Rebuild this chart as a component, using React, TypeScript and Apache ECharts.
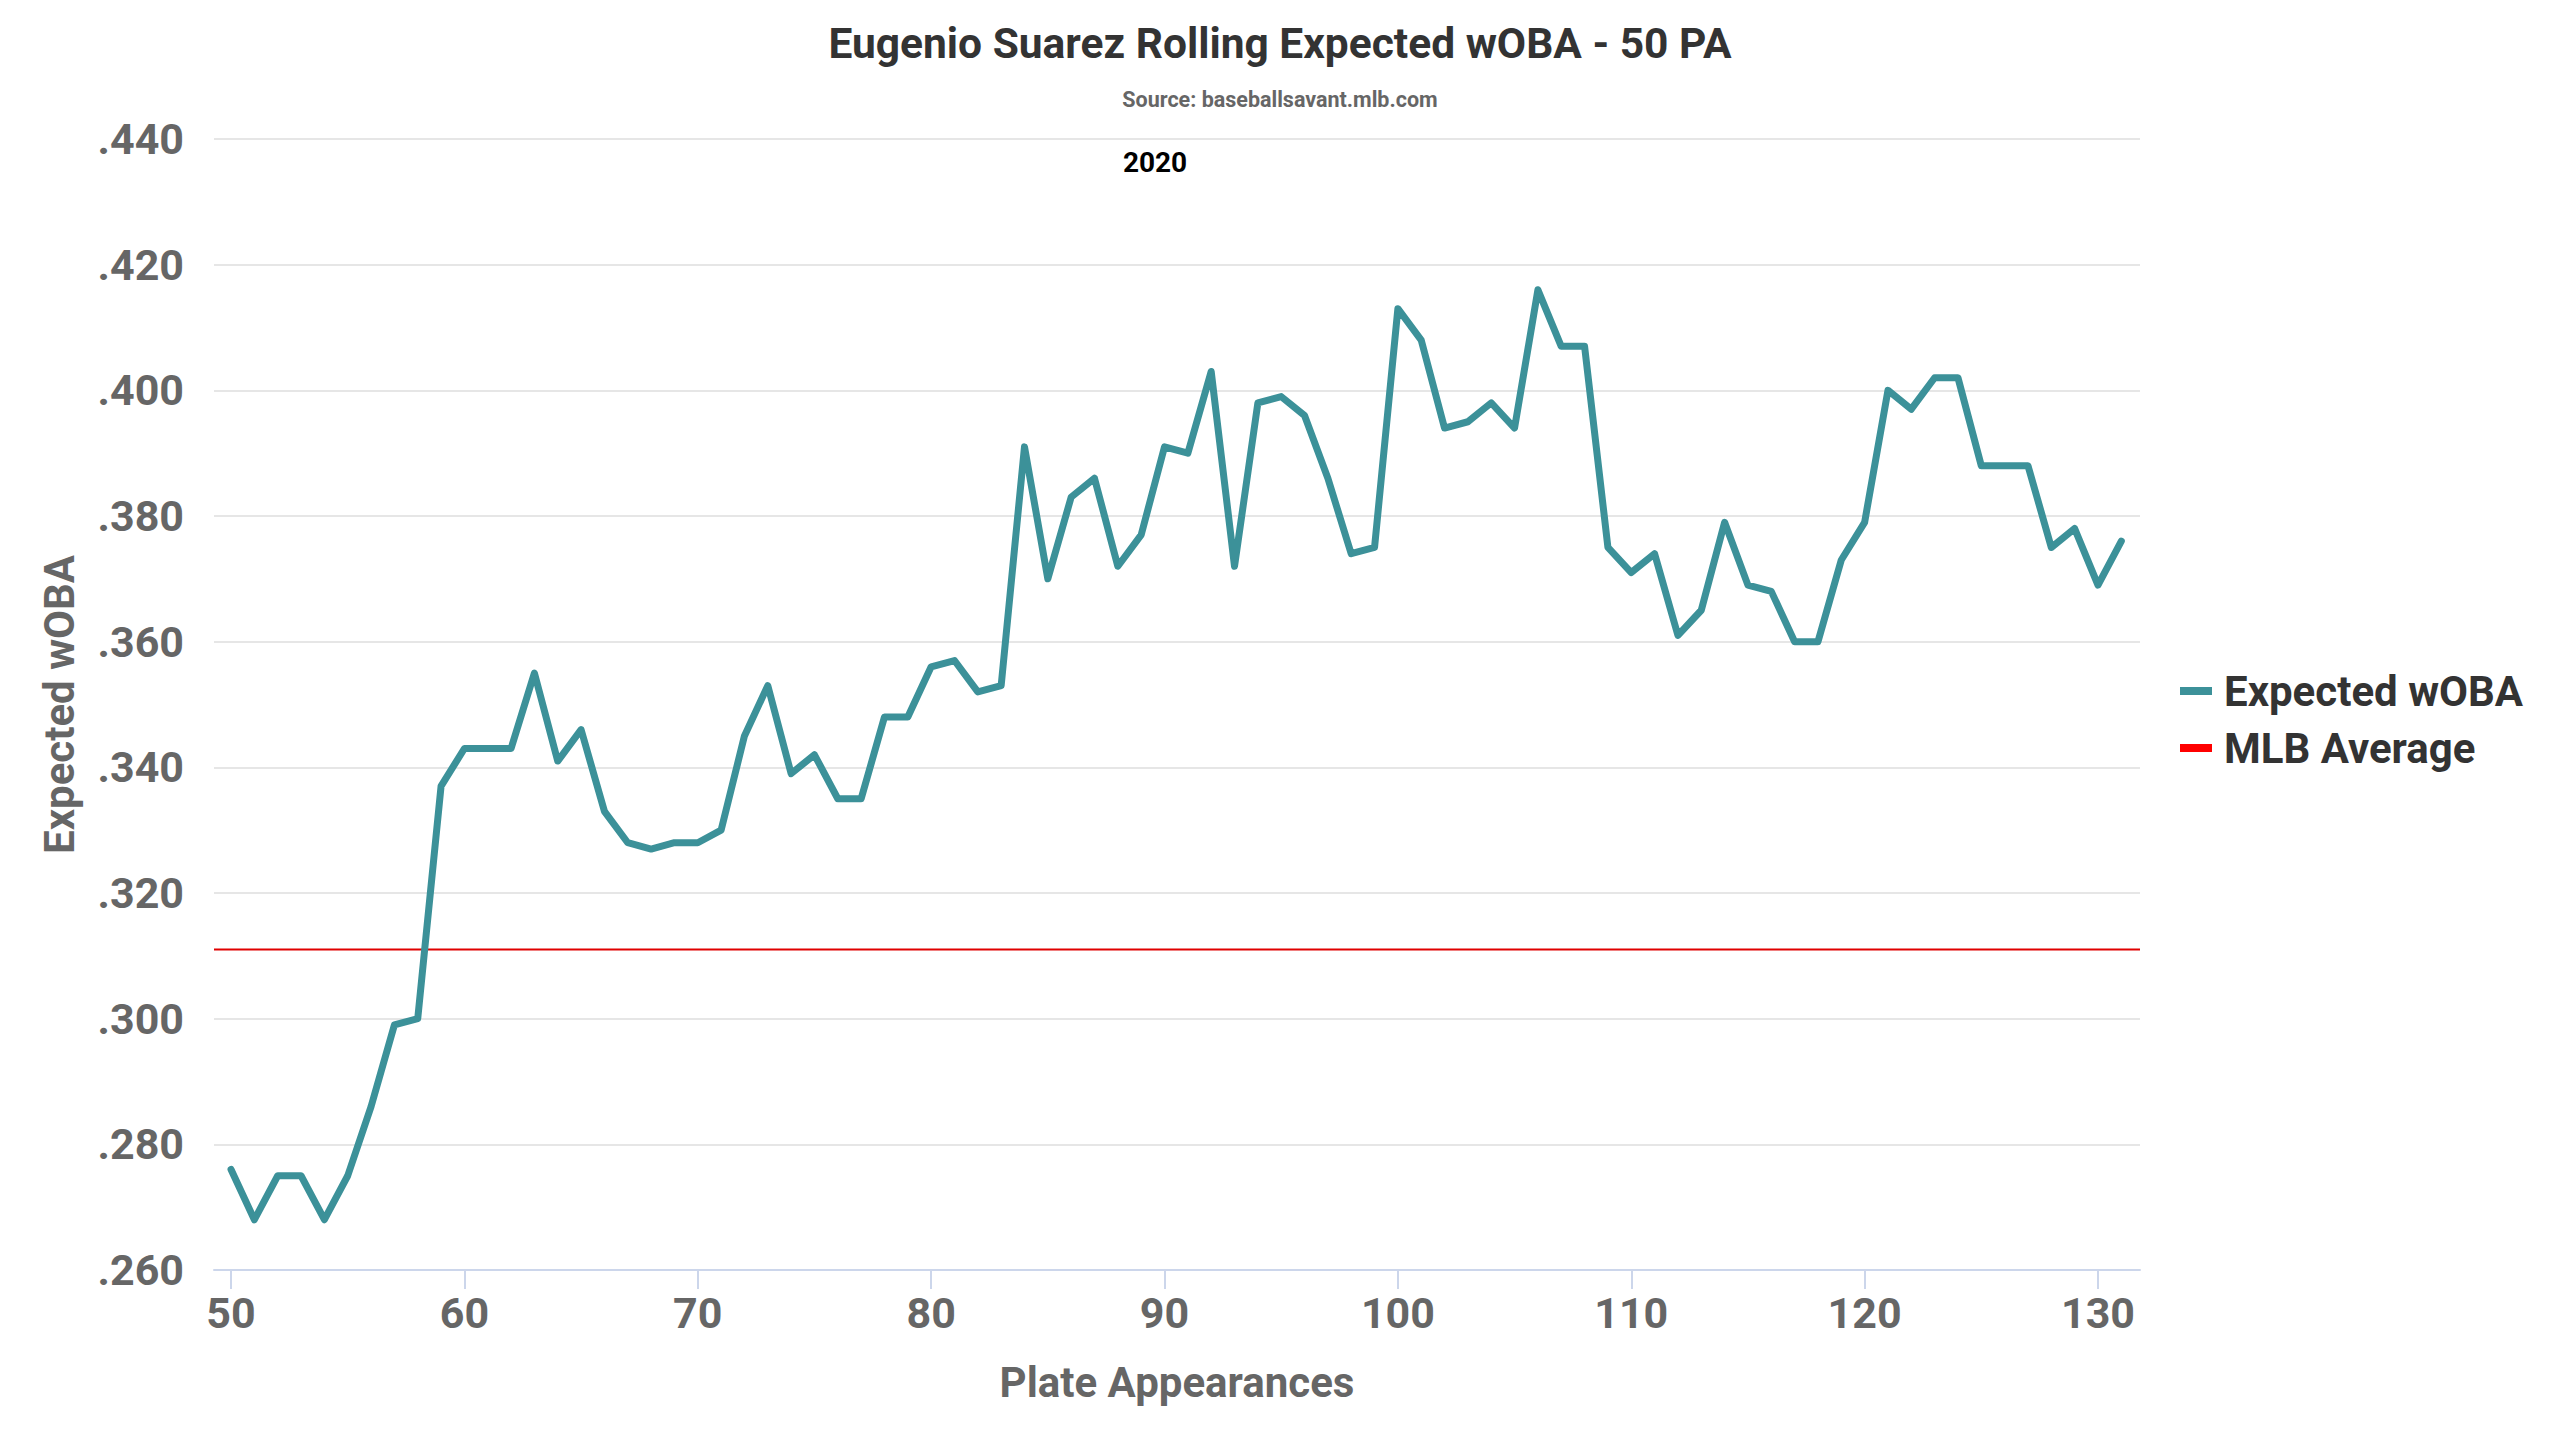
import React, { useEffect, useRef } from "react";
import * as echarts from "echarts";

const plateAppearances = [
  50, 51, 52, 53, 54, 55, 56, 57, 58, 59,
  60, 61, 62, 63, 64, 65, 66, 67, 68, 69,
  70, 71, 72, 73, 74, 75, 76, 77, 78, 79,
  80, 81, 82, 83, 84, 85, 86, 87, 88, 89,
  90, 91, 92, 93, 94, 95, 96, 97, 98, 99,
  100, 101, 102, 103, 104, 105, 106, 107, 108, 109,
  110, 111, 112, 113, 114, 115, 116, 117, 118, 119,
  120, 121, 122, 123, 124, 125, 126, 127, 128, 129,
  130, 131,
];

const expectedWoba = [
  0.276, 0.268, 0.275, 0.275, 0.268, 0.275, 0.286, 0.299, 0.3, 0.337,
  0.343, 0.343, 0.343, 0.355, 0.341, 0.346, 0.333, 0.328, 0.327, 0.328,
  0.328, 0.33, 0.345, 0.353, 0.339, 0.342, 0.335, 0.335, 0.348, 0.348,
  0.356, 0.357, 0.352, 0.353, 0.391, 0.37, 0.383, 0.386, 0.372, 0.377,
  0.391, 0.39, 0.403, 0.372, 0.398, 0.399, 0.396, 0.386, 0.374, 0.375,
  0.413, 0.408, 0.394, 0.395, 0.398, 0.394, 0.416, 0.407, 0.407, 0.375,
  0.371, 0.374, 0.361, 0.365, 0.379, 0.369, 0.368, 0.36, 0.36, 0.373,
  0.379, 0.4, 0.397, 0.402, 0.402, 0.388, 0.388, 0.388, 0.375, 0.378,
  0.369, 0.376,
];

const mlbAverage = 0.311;
const xTicks = [50, 60, 70, 80, 90, 100, 110, 120, 130];
const xMin = 49.27;
const xMax = 131.8;
const yMin = 0.26;
const yMax = 0.44;
const yInterval = 0.02;

const titleText = "Eugenio Suarez Rolling Expected wOBA - 50 PA";
const subtitleText = "Source: baseballsavant.mlb.com";
const seasonLabel = "2020";

const FONT = "Roboto, 'Noto Sans', sans-serif";

export default function App() {
  const ref = useRef<HTMLDivElement>(null);

  useEffect(() => {
    document.body.style.margin = "0";
    if (!ref.current) return;
    const chart = echarts.init(ref.current, null, { renderer: "svg" });

    const wobaData = plateAppearances.map((pa, i) => [pa, expectedWoba[i]]);
    const avgData = [
      [xMin, mlbAverage],
      [xMax, mlbAverage],
    ];

    chart.setOption({
      animation: false,
      backgroundColor: "#ffffff",
      title: [
        {
          text: titleText,
          left: "center",
          top: 17,
          textStyle: {
            fontFamily: FONT,
            fontWeight: "bold",
            fontSize: 42.5,
            color: "#333333",
          },
        },
        {
          text: subtitleText,
          left: "center",
          top: 83,
          textStyle: {
            fontFamily: FONT,
            fontWeight: "bold",
            fontSize: 21.5,
            color: "#666666",
          },
        },
      ],
      graphic: [
        {
          type: "text",
          x: 1155,
          y: 162,
          style: {
            text: seasonLabel,
            fontFamily: FONT,
            fontWeight: "bold",
            fontSize: 28,
            fill: "#000000",
            align: "center",
            verticalAlign: "middle",
          },
        },
      ],
      legend: {
        orient: "vertical",
        left: 2175,
        top: 662,
        icon: "rect",
        itemWidth: 32,
        itemHeight: 8,
        itemGap: 9,
        data: ["Expected wOBA", "MLB Average"],
        textStyle: {
          fontFamily: FONT,
          fontWeight: "bold",
          fontSize: 42,
          color: "#333333",
          lineHeight: 48,
          padding: [0, 0, 0, 7],
        },
      },
      grid: {
        left: 214,
        right: 420,
        top: 139,
        bottom: 170,
        containLabel: false,
      },
      xAxis: {
        type: "value",
        min: xMin,
        max: xMax,
        name: "Plate Appearances",
        nameLocation: "middle",
        nameGap: 91,
        nameTextStyle: {
          fontFamily: FONT,
          fontWeight: "bold",
          fontSize: 42,
          color: "#666666",
        },
        axisLine: { show: true, lineStyle: { color: "#ccd6eb", width: 2 } },
        axisTick: {
          show: true,
          customValues: xTicks,
          length: 19,
          lineStyle: { color: "#ccd6eb", width: 2 },
        },
        axisLabel: {
          customValues: xTicks,
          margin: 21,
          fontFamily: FONT,
          fontWeight: "bold",
          fontSize: 43,
          color: "#666666",
        },
        splitLine: { show: false },
      },
      yAxis: {
        type: "value",
        min: yMin,
        max: yMax,
        interval: yInterval,
        name: "Expected wOBA",
        nameLocation: "middle",
        nameRotate: 90,
        nameGap: 134,
        nameTextStyle: {
          fontFamily: FONT,
          fontWeight: "bold",
          fontSize: 42,
          color: "#666666",
        },
        axisLine: { show: false },
        axisTick: { show: false },
        axisLabel: {
          margin: 30,
          fontFamily: FONT,
          fontWeight: "bold",
          fontSize: 43,
          color: "#666666",
          formatter: (v: number) => v.toFixed(3).replace(/^0/, ""),
        },
        splitLine: { show: true, lineStyle: { color: "#e6e6e6", width: 2 } },
      },
      series: [
        {
          name: "Expected wOBA",
          type: "line",
          data: wobaData,
          symbol: "none",
          showSymbol: false,
          color: "#3c9199",
          lineStyle: { color: "#3c9199", width: 7, join: "round", cap: "round" },
          z: 3,
        },
        {
          name: "MLB Average",
          type: "line",
          data: avgData,
          symbol: "none",
          showSymbol: false,
          color: "#ff0000",
          lineStyle: { color: "#e00000", width: 2 },
          z: 2,
        },
      ],
    });

    return () => {
      chart.dispose();
    };
  }, []);

  return <div ref={ref} style={{ width: 2560, height: 1440 }} />;
}
